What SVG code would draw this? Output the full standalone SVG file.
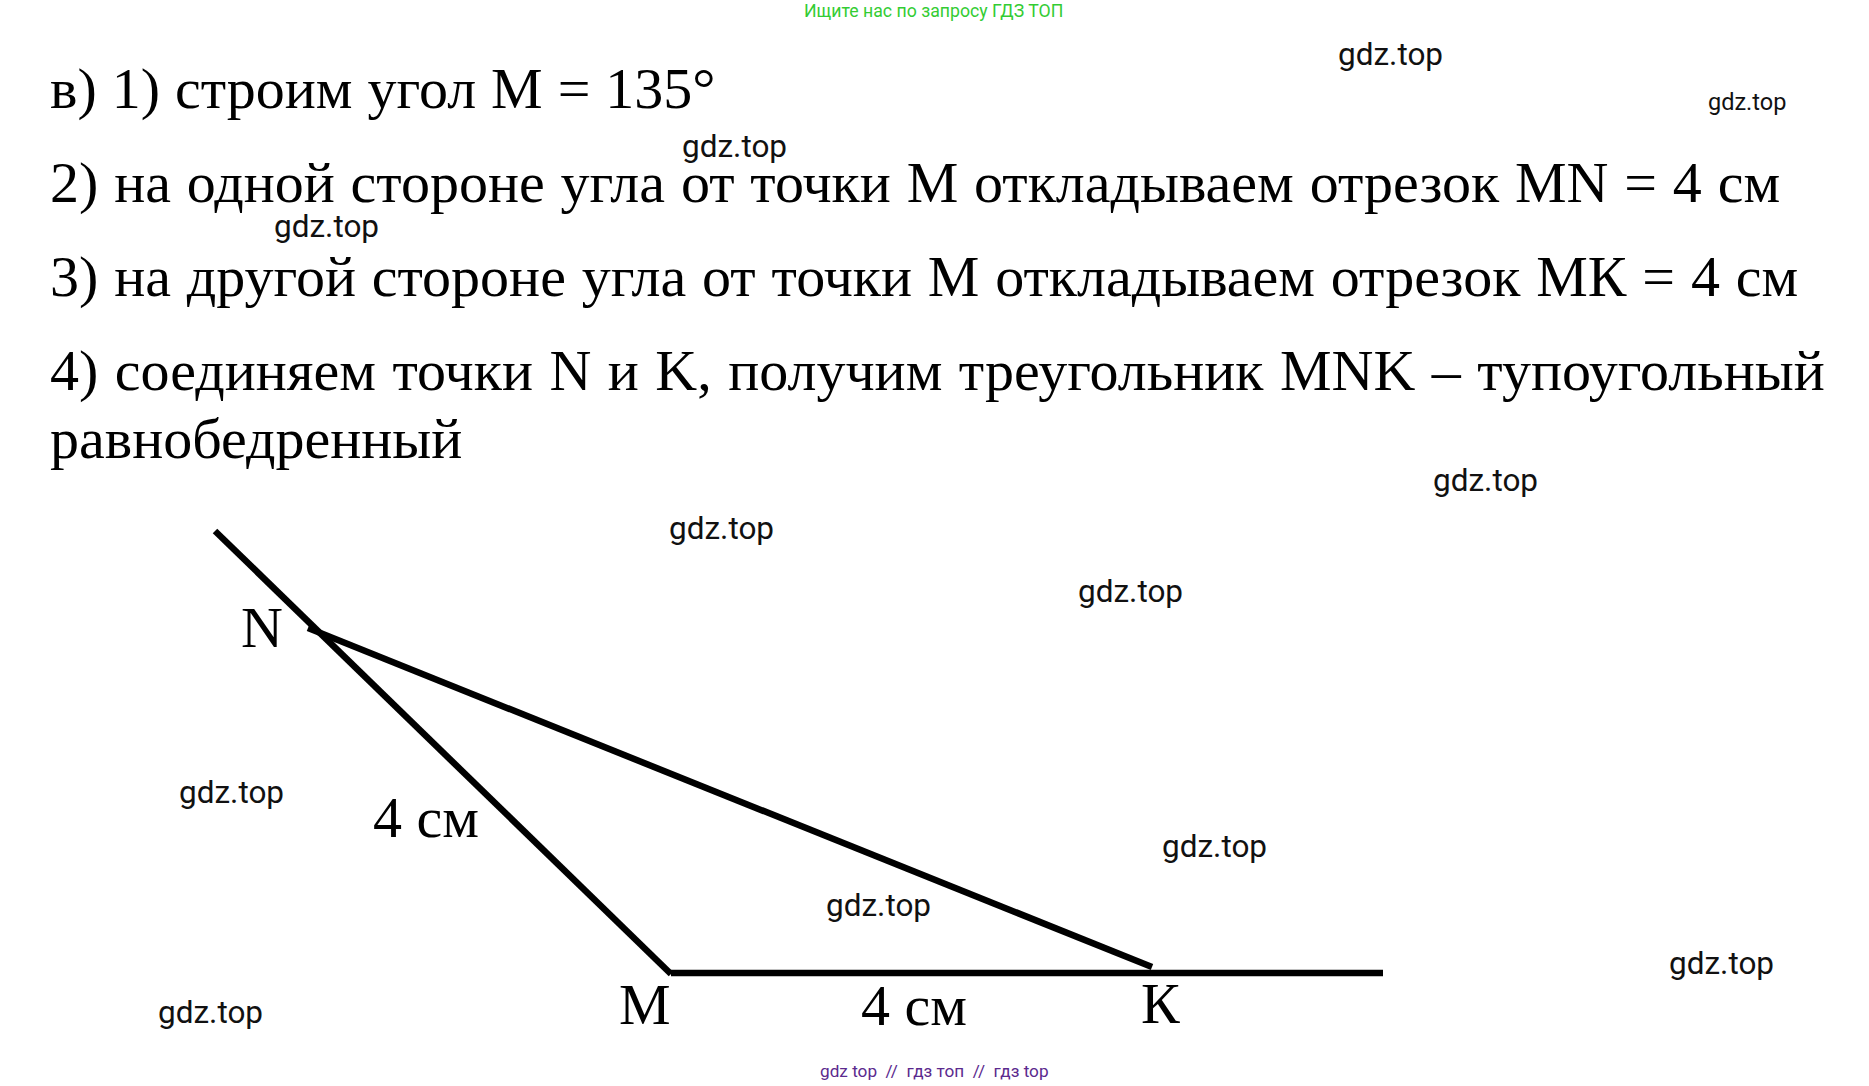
<svg xmlns="http://www.w3.org/2000/svg" width="1869" height="1086" viewBox="0 0 1869 1086">
<style>
.t{font-family:"Liberation Serif","Times New Roman",serif;font-size:58px;fill:#000}
.w{font-family:Roboto,"Liberation Sans",sans-serif;font-size:31.5px;fill:#111}
.ln{stroke:#000;stroke-width:6.5;fill:none;stroke-linecap:butt}
</style>
<rect width="1869" height="1086" fill="#fff"/>
<text x="804" y="17" font-family="Roboto,'Liberation Sans',sans-serif" font-size="17.7" fill="#33cc33">Ищите нас по запросу ГДЗ ТОП</text>
<g id="text">
<text class="t" x="50" y="108" word-spacing="0.5">в) 1) строим угол М = 135°</text>
<text class="t" x="50" y="202" word-spacing="1.35">2) на одной стороне угла от точки М откладываем отрезок MN = 4 см</text>
<text class="t" x="50" y="296" word-spacing="1.35">3) на другой стороне угла от точки М откладываем отрезок МК = 4 см</text>
<text class="t" x="50" y="390" word-spacing="2">4) соединяем точки N и K, получим треугольник MNK – тупоугольный</text>
<text class="t" x="50" y="458">равнобедренный</text>
</g>
<g id="connectors">
<line class="ln" x1="215" y1="531" x2="671" y2="974"/>
<line class="ln" x1="308" y1="628" x2="1152" y2="967"/>
<line class="ln" x1="671" y1="973" x2="1383" y2="973"/>
</g>
<g id="node-N"><text class="t" x="241" y="647">N</text></g>
<g id="node-M"><text class="t" x="619" y="1024">М</text></g>
<g id="node-K"><text class="t" x="1141" y="1023">К</text></g>
<g id="label-MN"><text class="t" x="373" y="837">4 см</text></g>
<g id="label-MK"><text class="t" x="861" y="1025">4 см</text></g>
<g id="watermarks">
<text class="w" x="1338" y="65">gdz.top</text>
<text class="w" x="1708" y="110" style="font-size:23.5px">gdz.top</text>
<text class="w" x="682" y="157">gdz.top</text>
<text class="w" x="274" y="237">gdz.top</text>
<text class="w" x="1433" y="491">gdz.top</text>
<text class="w" x="669" y="539">gdz.top</text>
<text class="w" x="1078" y="602">gdz.top</text>
<text class="w" x="179" y="803">gdz.top</text>
<text class="w" x="1162" y="857">gdz.top</text>
<text class="w" x="826" y="916">gdz.top</text>
<text class="w" x="1669" y="974">gdz.top</text>
<text class="w" x="158" y="1023">gdz.top</text>
</g>
<text x="820" y="1077" font-family="Roboto,'Liberation Sans',sans-serif" font-size="17.2" fill="#5b2a8e" xml:space="preserve">gdz top  //  гдз топ  //  гдз top</text>
</svg>
